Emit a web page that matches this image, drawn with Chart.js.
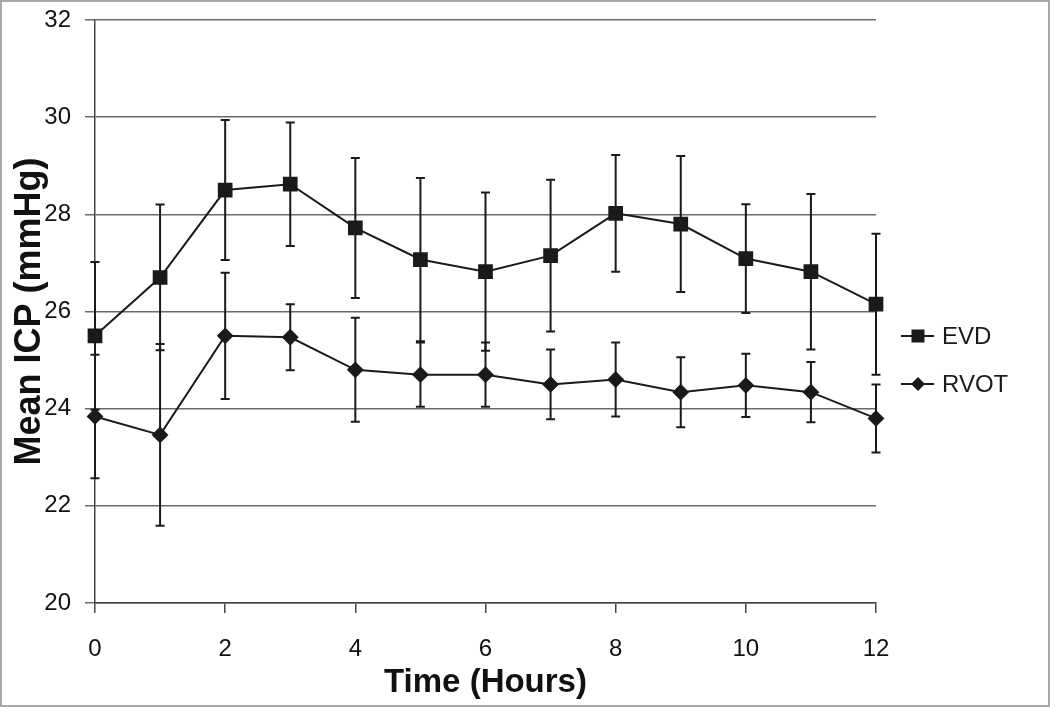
<!DOCTYPE html>
<html>
<head>
<meta charset="utf-8">
<script src="https://cdn.jsdelivr.net/npm/chart.js@4"></script>
<style>
  body { margin: 0; background: #fff; }
  #wrap { position: relative; width: 1050px; height: 707px; }
  #frame { position: absolute; left: 0; top: 0; width: 1050px; height: 707px; box-sizing: border-box; border: 2px solid #a8a8a8; pointer-events: none; }
</style>
</head>
<body>
<div id="wrap">
  <canvas id="icpChart" width="1050" height="707"></canvas>
  <div id="frame"></div>
</div>
<script>
// hours after start
const hours = [0, 1, 2, 3, 4, 5, 6, 7, 8, 9, 10, 11, 12];

// EVD group: mean ICP and SD (mmHg)
const evdMean = [25.5, 26.7, 28.5, 28.62, 27.72, 27.07, 26.82, 27.15, 28.02, 27.8, 27.09, 26.82, 26.15];
const evdSD   = [1.52, 1.5, 1.44, 1.27, 1.44, 1.68, 1.63, 1.56, 1.2, 1.4, 1.12, 1.6, 1.45];

// RVOT group
const rvotMean = [23.84, 23.46, 25.5, 25.47, 24.8, 24.7, 24.7, 24.5, 24.6, 24.34, 24.48, 24.34, 23.8];
const rvotSD   = [1.27, 1.87, 1.3, 0.68, 1.07, 0.66, 0.66, 0.72, 0.76, 0.72, 0.65, 0.62, 0.7];

const yTicks = [20, 22, 24, 26, 28, 30, 32];

const ink = '#1a1a1a';
const fontName = '"Liberation Sans", Arial, sans-serif';

const toPoints = (vals) => hours.map((h, i) => ({ x: h, y: vals[i] }));

// draw +/- SD whiskers with the chart's scales
const errorBars = {
    id: 'errorBars',
    beforeDatasetsDraw(chart) {
        const ctx = chart.ctx;
        const xs = chart.scales.x, ys = chart.scales.y;
        const sets = [[evdMean, evdSD], [rvotMean, rvotSD]];
        ctx.save();
        ctx.strokeStyle = ink;
        ctx.lineWidth = 2;
        sets.forEach(([m, sd]) => {
            hours.forEach((h, i) => {
                const px = xs.getPixelForValue(h);
                const top = ys.getPixelForValue(m[i] + sd[i]);
                const bot = ys.getPixelForValue(m[i] - sd[i]);
                ctx.beginPath();
                ctx.moveTo(px, top); ctx.lineTo(px, bot);
                ctx.moveTo(px - 4.5, top); ctx.lineTo(px + 4.5, top);
                ctx.moveTo(px - 4.5, bot); ctx.lineTo(px + 4.5, bot);
                ctx.stroke();
            });
        });
        ctx.restore();
    }
};

// legend with the line running through the marker
const sideLegend = {
    id: 'sideLegend',
    afterDraw(chart) {
        const ctx = chart.ctx;
        const x0 = chart.chartArea.right + 25;
        const rows = [336, 384];
        ctx.save();
        chart.data.datasets.forEach((ds, i) => {
            const y = rows[i];
            ctx.strokeStyle = ink;
            ctx.lineWidth = 2;
            ctx.beginPath();
            ctx.moveTo(x0, y); ctx.lineTo(x0 + 33, y);
            ctx.stroke();
            ctx.fillStyle = ink;
            const cx = x0 + 17;
            ctx.beginPath();
            if (ds.pointStyle === 'rect') {
                ctx.rect(cx - 6.5, y - 6.5, 13, 13);
            } else {
                ctx.moveTo(cx, y - 7); ctx.lineTo(cx + 7, y);
                ctx.lineTo(cx, y + 7); ctx.lineTo(cx - 7, y);
                ctx.closePath();
            }
            ctx.fill();
            ctx.font = '24px ' + fontName;
            ctx.textBaseline = 'middle';
            ctx.fillText(ds.label, x0 + 41, y + 1);
        });
        ctx.restore();
    }
};

const ctx = document.getElementById('icpChart').getContext('2d');

const icpChart = new Chart(ctx, {
    type: 'line',
    data: {
        datasets: [
            {
                label: 'EVD',
                data: toPoints(evdMean),
                borderColor: ink,
                backgroundColor: ink,
                borderWidth: 2,
                pointStyle: 'rect',
                pointRadius: 9,
                pointHoverRadius: 9,
                tension: 0,
                clip: false
            },
            {
                label: 'RVOT',
                data: toPoints(rvotMean),
                borderColor: ink,
                backgroundColor: ink,
                borderWidth: 2,
                pointStyle: 'rectRot',
                pointRadius: 7,
                pointHoverRadius: 7,
                tension: 0,
                clip: false
            }
        ]
    },
    options: {
        responsive: false,
        animation: false,
        events: [],
        layout: { padding: { left: 0, right: 174, top: 20, bottom: 0 } },
        plugins: {
            legend: { display: false },
            tooltip: { enabled: false }
        },
        scales: {
            x: {
                type: 'linear',
                min: 0,
                max: 12,
                afterFit: (s) => { s.height = 104; s.paddingLeft = 0; s.paddingRight = 0; },
                border: { display: true, color: '#444', width: 1.5 },
                grid: { drawOnChartArea: false, drawTicks: true, tickLength: 10, color: '#444', lineWidth: 1.5 },
                ticks: {
                    stepSize: 2,
                    padding: 22,
                    color: '#111',
                    font: { family: fontName, size: 24 }
                },
                title: {
                    display: true,
                    text: 'Time (Hours)',
                    color: '#111',
                    padding: { bottom: 4 },
                    font: { family: fontName, size: 33, weight: 'bold' }
                }
            },
            y: {
                min: 20,
                max: 32,
                afterFit: (s) => { s.width = 95; s.paddingTop = 0; s.paddingBottom = 0; },
                afterBuildTicks: (s) => { s.ticks = yTicks.map(v => ({ value: v })); },
                border: { display: true, color: '#444', width: 1.5 },
                grid: { color: '#6a6a6a', lineWidth: 1.5, tickLength: 10 },
                ticks: {
                    padding: 14,
                    color: '#111',
                    font: { family: fontName, size: 24 }
                },
                title: {
                    display: true,
                    text: 'Mean ICP (mmHg)',
                    color: '#111',
                    padding: { top: 8 },
                    font: { family: fontName, size: 36, weight: 'bold' }
                }
            }
        }
    },
    plugins: [errorBars, sideLegend]
});
</script>
</body>
</html>
